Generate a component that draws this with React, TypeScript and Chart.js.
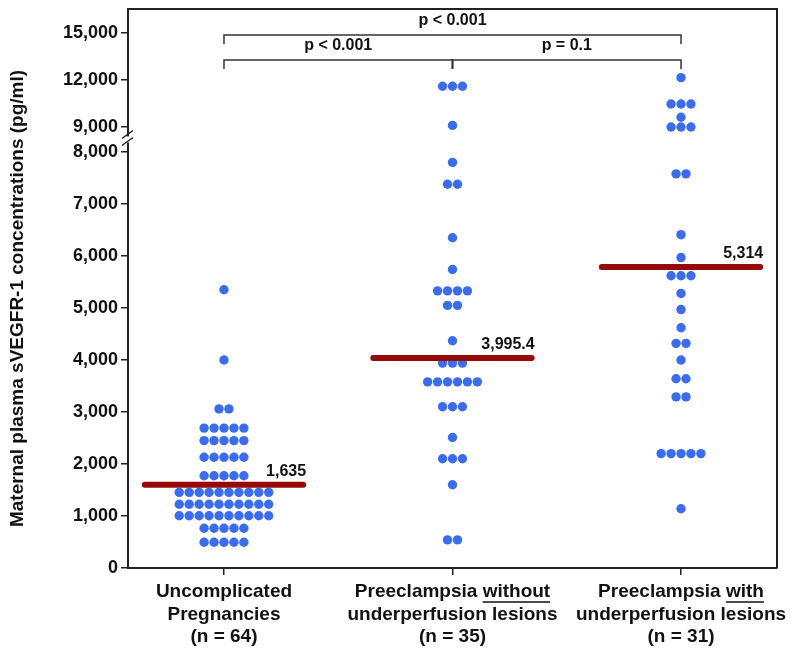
import React, { useEffect, useRef } from 'react';
import { Chart, registerables } from 'chart.js';

Chart.register(...registerables);

// ---------- data ----------
const CATEGORY_LABELS: string[][] = [
  ['Uncomplicated', 'Pregnancies', '(n = 64)'],
  ['Preeclampsia without', 'underperfusion lesions', '(n = 35)'],
  ['Preeclampsia with', 'underperfusion lesions', '(n = 31)'],
];
const UNDERLINED_WORDS: (string | null)[] = [null, 'without', 'with'];

const GROUP_UNCOMPLICATED: number[] = [
  5350, 4000,
  3060, 3060,
  2690, 2690, 2690, 2690, 2690,
  2450, 2450, 2450, 2450, 2450,
  2130, 2130, 2130, 2130, 2130,
  1775, 1775, 1775, 1775, 1775,
  1455, 1455, 1455, 1455, 1455, 1455, 1455, 1455, 1455, 1455,
  1225, 1225, 1225, 1225, 1225, 1225, 1225, 1225, 1225, 1225,
  1005, 1005, 1005, 1005, 1005, 1005, 1005, 1005, 1005, 1005,
  765, 765, 765, 765, 765,
  495, 495, 495, 495, 495,
];
const GROUP_WITHOUT_LESIONS: number[] = [
  11600, 11600, 11600,
  9100, 7800, 7380, 7380, 6350, 5740,
  5330, 5330, 5330, 5330,
  5050, 5050, 4370,
  3940, 3940, 3940,
  3580, 3580, 3580, 3580, 3580, 3580,
  3100, 3100, 3100,
  2510,
  2100, 2100, 2100,
  1600,
  540, 540,
];
const GROUP_WITH_LESIONS: number[] = [
  12150,
  10470, 10470, 10470,
  9620,
  9000, 9000, 9000,
  7580, 7580,
  6410, 5970,
  5620, 5620, 5620,
  5280, 4970, 4620,
  4320, 4320,
  4000,
  3640, 3640,
  3290, 3290,
  2200, 2200, 2200, 2200, 2200,
  1140,
];
const GROUPS = [GROUP_UNCOMPLICATED, GROUP_WITHOUT_LESIONS, GROUP_WITH_LESIONS];

const MEDIAN_LINE_VALUES: number[] = [1600, 4040, 5790];
const MEDIAN_LABELS: string[] = ['1,635', '3,995.4', '5,314'];

const Y_TICK_VALUES: number[] = [0, 1000, 2000, 3000, 4000, 5000, 6000, 7000, 8000, 9000, 12000, 15000];

const COMPARISONS = [
  { from: 1, to: 2, label: 'p < 0.001', level: 0 },
  { from: 2, to: 3, label: 'p = 0.1', level: 0 },
  { from: 1, to: 3, label: 'p < 0.001', level: 1 },
];

// ---------- broken axis mapping ----------
const BREAK_LOW = 8000;
const BREAK_HIGH = 9000;
const BREAK_GAP = 481;
const UPPER_RATIO = 0.3013;
const AXIS_MAX = 10750;
const toAxis = (v: number) => (v <= BREAK_LOW ? v : BREAK_LOW + BREAK_GAP + (v - BREAK_HIGH) * UPPER_RATIO);

const DOT_STEP = 0.0435;
const MEDIAN_HALF = 0.3465;

const FONT = '"Liberation Sans", Arial, Helvetica, sans-serif';
const TEXT_COLOR = '#111111';
const AXIS_COLOR = '#222222';
const DOT_COLOR = '#3a6cf2';
const MEDIAN_COLOR = '#960a0a';

function swarm(values: number[], center: number) {
  const counts = new Map<number, number>();
  values.forEach((v) => counts.set(v, (counts.get(v) || 0) + 1));
  const seen = new Map<number, number>();
  return values.map((v) => {
    const n = counts.get(v) || 1;
    const i = seen.get(v) || 0;
    seen.set(v, i + 1);
    return { x: center + (i - (n - 1) / 2) * DOT_STEP, y: toAxis(v) };
  });
}

const annotationPlugin = {
  id: 'annotations',
  afterDraw(chart: any) {
    const { ctx, chartArea, scales } = chart;
    const xs = scales.x;
    const ys = scales.y;
    const { left, right, top, bottom } = chartArea;
    ctx.save();

    // top and right frame
    ctx.strokeStyle = AXIS_COLOR;
    ctx.lineWidth = 2;
    ctx.beginPath();
    ctx.moveTo(left, top);
    ctx.lineTo(right, top);
    ctx.lineTo(right, bottom);
    ctx.stroke();

    // axis break marks
    const yb = (ys.getPixelForValue(toAxis(BREAK_LOW)) + ys.getPixelForValue(toAxis(BREAK_HIGH))) / 2;
    ctx.fillStyle = '#ffffff';
    ctx.fillRect(left - 3, yb - 3, 6, 6);
    ctx.strokeStyle = AXIS_COLOR;
    ctx.lineWidth = 1.5;
    ctx.beginPath();
    ctx.moveTo(left - 6, yb - 1);
    ctx.lineTo(left + 5, yb - 9);
    ctx.moveTo(left - 6, yb + 6);
    ctx.lineTo(left + 5, yb - 2);
    ctx.stroke();

    // significance brackets
    ctx.lineWidth = 1.5;
    ctx.strokeStyle = '#333333';
    ctx.fillStyle = TEXT_COLOR;
    ctx.font = `bold 16px ${FONT}`;
    ctx.textAlign = 'center';
    ctx.textBaseline = 'middle';
    COMPARISONS.forEach((c) => {
      const yLine = top + (c.level === 0 ? 51 : 26);
      const x1 = xs.getPixelForValue(c.from);
      const x2 = xs.getPixelForValue(c.to);
      ctx.beginPath();
      ctx.moveTo(x1, yLine + 9);
      ctx.lineTo(x1, yLine);
      ctx.lineTo(x2, yLine);
      ctx.lineTo(x2, yLine + 9);
      ctx.stroke();
      ctx.fillText(c.label, (x1 + x2) / 2, yLine - 14);
    });
    // middle tick of the lower bracket
    const xm = xs.getPixelForValue(2);
    ctx.beginPath();
    ctx.moveTo(xm, top + 51);
    ctx.lineTo(xm, top + 60);
    ctx.stroke();

    // median labels
    ctx.font = `bold 16px ${FONT}`;
    ctx.textAlign = 'right';
    MEDIAN_LABELS.forEach((lab, i) => {
      const x = xs.getPixelForValue(i + 1 + MEDIAN_HALF) + 3;
      const y = ys.getPixelForValue(toAxis(MEDIAN_LINE_VALUES[i])) - 13;
      ctx.fillText(lab, x, y);
    });

    // category labels
    ctx.font = `bold 19px ${FONT}`;
    ctx.textAlign = 'left';
    const lineYs = [bottom + 24, bottom + 46.5, bottom + 69];
    CATEGORY_LABELS.forEach((lines, i) => {
      const cx = xs.getPixelForValue(i + 1);
      lines.forEach((line, j) => {
        const w = ctx.measureText(line).width;
        const sx = cx - w / 2;
        ctx.fillText(line, sx, lineYs[j]);
        const word = UNDERLINED_WORDS[i];
        if (j === 0 && word) {
          const pos = line.lastIndexOf(word);
          const ux = sx + ctx.measureText(line.slice(0, pos)).width;
          const uw = ctx.measureText(word).width;
          ctx.beginPath();
          ctx.lineWidth = 1.6;
          ctx.strokeStyle = TEXT_COLOR;
          ctx.moveTo(ux, lineYs[j] + 10);
          ctx.lineTo(ux + uw, lineYs[j] + 10);
          ctx.stroke();
        }
      });
    });

    // y axis title
    ctx.translate(18, (top + bottom) / 2 + 10);
    ctx.rotate(-Math.PI / 2);
    ctx.textAlign = 'center';
    ctx.font = `bold 19px ${FONT}`;
    ctx.fillText('Maternal plasma sVEGFR-1 concentrations (pg/ml)', 0, 0);

    ctx.restore();
  },
};

export default function App() {
  const canvasRef = useRef<HTMLCanvasElement | null>(null);

  useEffect(() => {
    const canvas = canvasRef.current;
    if (!canvas) return;

    const medianSets = MEDIAN_LINE_VALUES.map((v, i) => ({
      type: 'line' as const,
      data: [
        { x: i + 1 - MEDIAN_HALF, y: toAxis(v) },
        { x: i + 1 + MEDIAN_HALF, y: toAxis(v) },
      ],
      borderColor: MEDIAN_COLOR,
      borderWidth: 6,
      borderCapStyle: 'round' as const,
      pointRadius: 0,
      showLine: true,
      order: 0,
    }));

    const dotSets = GROUPS.map((g, i) => ({
      type: 'scatter' as const,
      data: swarm(g, i + 1),
      backgroundColor: DOT_COLOR,
      borderWidth: 0,
      pointRadius: 4.7,
      pointHoverRadius: 4.7,
      order: 1,
    }));

    const chart = new Chart(canvas, {
      type: 'scatter',
      data: { datasets: [...medianSets, ...dotSets] as any },
      options: {
        animation: false,
        responsive: true,
        maintainAspectRatio: false,
        layout: { padding: { top: 9, right: 18, left: 0, bottom: 0 } },
        plugins: { legend: { display: false }, tooltip: { enabled: false } },
        scales: {
          x: {
            type: 'linear',
            min: 0.58,
            max: 3.42,
            afterBuildTicks: (s: any) => {
              s.ticks = [{ value: 1 }, { value: 2 }, { value: 3 }];
            },
            afterFit: (s: any) => {
              s.height = 87;
              s.paddingLeft = 0;
              s.paddingRight = 0;
            },
            ticks: { display: false },
            grid: { drawOnChartArea: false, drawTicks: true, tickLength: 7, color: AXIS_COLOR, lineWidth: 1.5 },
            border: { display: true, color: AXIS_COLOR, width: 2 },
          },
          y: {
            type: 'linear',
            min: 0,
            max: AXIS_MAX,
            afterBuildTicks: (s: any) => {
              s.ticks = Y_TICK_VALUES.map((v) => ({ value: toAxis(v) }));
            },
            afterFit: (s: any) => {
              s.width = 128;
              s.paddingTop = 0;
              s.paddingBottom = 0;
            },
            ticks: {
              autoSkip: false,
              padding: 3,
              color: TEXT_COLOR,
              font: { family: FONT, size: 18, weight: 'bold' },
              callback: (_v: any, idx: number) => Y_TICK_VALUES[idx].toLocaleString('en-US'),
            },
            grid: { drawOnChartArea: false, drawTicks: true, tickLength: 7, color: AXIS_COLOR, lineWidth: 1.5 },
            border: { display: true, color: AXIS_COLOR, width: 2 },
          },
        },
      },
      plugins: [annotationPlugin],
    });

    return () => chart.destroy();
  }, []);

  return (
    <div style={{ position: 'fixed', left: 0, top: 0, width: 795, height: 655, background: '#ffffff' }}>
      <canvas ref={canvasRef} />
    </div>
  );
}
